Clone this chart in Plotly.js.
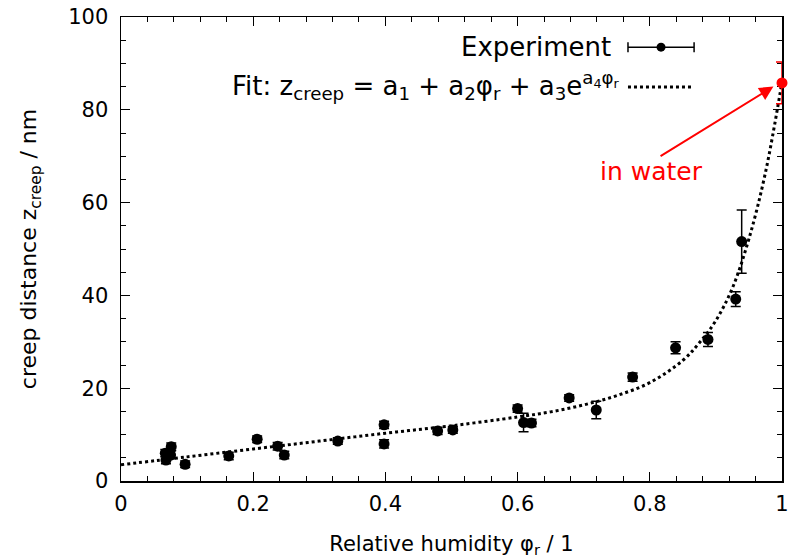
<!DOCTYPE html>
<html>
<head>
<meta charset="utf-8">
<script src="https://cdn.plot.ly/plotly-3.0.1.min.js"></script>
<style>
  html, body { margin: 0; padding: 0; background: #fff; }
  #chart { width: 789px; height: 558px; }
</style>
</head>
<body>
<div id="chart"></div>
<script>
// Measured creep distance versus relative humidity
const humidity = [0.067, 0.068, 0.075, 0.076, 0.097, 0.163, 0.206, 0.237, 0.247, 0.328,
                  0.398, 0.398, 0.479, 0.502, 0.600, 0.609, 0.621, 0.678, 0.719, 0.774,
                  0.839, 0.888, 0.930, 0.939];
const creep    = [6.0, 4.5, 5.6, 7.4, 3.6, 5.4, 9.0, 7.5, 5.6, 8.6,
                  12.1, 8.0, 10.8, 11.0, 15.6, 12.6, 12.5, 17.9, 15.3, 22.4,
                  28.7, 30.5, 39.2, 51.6];
const creepErr = [0.8, 0.8, 0.8, 0.8, 0.7, 0.8, 0.7, 0.8, 0.8, 0.7,
                  0.8, 0.9, 0.8, 0.7, 0.8, 2.0, 0.8, 0.7, 1.9, 0.9,
                  1.3, 1.5, 1.6, 6.8];

// Measurement in water (phi_r = 1)
const waterX = [1.0];
const waterY = [85.8];
const waterErr = [4.5];

// Fitted curve z = a1 + a2*phi + a3*exp(a4*phi), sampled along its course
const fitX = [0, 0.1, 0.2, 0.3, 0.4, 0.5, 0.6, 0.65, 0.7, 0.75, 0.8, 0.85, 0.875,
              0.9, 0.925, 0.95, 0.975, 1.0];
const fitY = [3.5, 5.2, 6.9, 8.6, 10.3, 11.9, 13.8, 14.9, 16.4, 18.4, 21.2, 26.0, 29.8,
              34.6, 41.6, 52.2, 66.5, 86.0];

// Axis ticks
const xTicks = [0, 0.2, 0.4, 0.6, 0.8, 1];
const xTickText = ['0', '0.2', '0.4', '0.6', '0.8', '1'];
const yTicks = [0, 20, 40, 60, 80, 100];
const yTickText = ['0', '20', '40', '60', '80', '100'];

// Annotation arrow: from label to water point
const arrowFrom = [0.814, 69.8];
const arrowTo = [0.987, 85.0];

const FONT = 'DejaVu Sans, Liberation Sans, sans-serif';

const traces = [
  {
    x: fitX, y: fitY, type: 'scatter', mode: 'lines',
    line: { color: 'black', width: 3, dash: '3px,3px', shape: 'spline', smoothing: 1 },
    hoverinfo: 'skip', showlegend: false
  },
  {
    x: humidity, y: creep, type: 'scatter', mode: 'markers',
    marker: { color: 'black', size: 11 },
    error_y: { type: 'data', array: creepErr, visible: true, color: 'black', thickness: 1.5, width: 5 },
    showlegend: false
  },
  {
    x: waterX, y: waterY, type: 'scatter', mode: 'markers',
    marker: { color: 'red', size: 11 },
    error_y: { type: 'data', array: waterErr, visible: true, color: 'red', thickness: 1.5, width: 6 },
    cliponaxis: false, showlegend: false
  }
];

const axisCommon = {
  showline: true, linecolor: 'black', linewidth: 1.5, mirror: 'allticks',
  ticks: 'inside', ticklen: 9, tickwidth: 1, tickcolor: 'black',
  showgrid: false, zeroline: false, layer: 'below traces',
  tickfont: { family: FONT, size: 21, color: 'black' }
};

// Key placement (paper coordinates)
const keyX0 = 0.767, keyX1 = 0.867, keyDot = 0.817;
const keyY1 = 0.935, keyY2 = 0.849;

const layout = {
  width: 789, height: 558,
  margin: { l: 121, r: 7, t: 17, b: 77 },
  paper_bgcolor: 'white', plot_bgcolor: 'white',
  showlegend: false,
  xaxis: Object.assign({}, axisCommon, {
    range: [0, 1], tickvals: xTicks, ticktext: xTickText, ticklabelstandoff: 3,
    minor: { dtick: 0.04, ticks: 'inside', ticklen: 5, tickwidth: 1, tickcolor: 'black' },
    title: { text: 'Relative humidity φ<sub>r</sub> / 1', font: { family: FONT, size: 21, color: 'black' }, standoff: 23 }
  }),
  yaxis: Object.assign({}, axisCommon, {
    range: [0, 100], tickvals: yTicks, ticktext: yTickText, ticklabelstandoff: 7,
    minor: { dtick: 5, ticks: 'inside', ticklen: 5, tickwidth: 1, tickcolor: 'black' },
    title: { text: 'creep distance z<sub>creep</sub> / nm', font: { family: FONT, size: 22, color: 'black' }, standoff: 25 }
  }),
  shapes: [
    // Experiment key sample: horizontal bar with caps and dot
    { type: 'line', xref: 'paper', yref: 'paper', x0: keyX0, x1: keyX1, y0: keyY1, y1: keyY1,
      line: { color: 'black', width: 1.5 } },
    { type: 'line', xref: 'paper', yref: 'paper', ysizemode: 'pixel', yanchor: keyY1,
      x0: keyX0, x1: keyX0, y0: -5, y1: 5, line: { color: 'black', width: 1.5 } },
    { type: 'line', xref: 'paper', yref: 'paper', ysizemode: 'pixel', yanchor: keyY1,
      x0: keyX1, x1: keyX1, y0: -5, y1: 5, line: { color: 'black', width: 1.5 } },
    { type: 'circle', xref: 'paper', yref: 'paper', xsizemode: 'pixel', ysizemode: 'pixel',
      xanchor: keyDot, yanchor: keyY1, x0: -4.5, x1: 4.5, y0: -4.5, y1: 4.5,
      fillcolor: 'black', line: { color: 'black', width: 0 } },
    // Fit key sample: dotted line
    { type: 'line', xref: 'paper', yref: 'paper', x0: keyX0, x1: 0.864, y0: keyY2, y1: keyY2,
      line: { color: 'black', width: 3, dash: '3px,3px' } }
  ],
  annotations: [
    { xref: 'paper', yref: 'paper', x: 0.745, y: keyY1, xanchor: 'right', yanchor: 'middle',
      text: 'Experiment', showarrow: false, font: { family: FONT, size: 26, color: 'black' } },
    { xref: 'paper', yref: 'paper', x: 0.758, y: keyY2 + 0.004, xanchor: 'right', yanchor: 'middle',
      text: 'Fit: z<sub>creep</sub> = a<sub>1</sub> + a<sub>2</sub>φ<sub>r</sub> + a<sub>3</sub>e<sup>a<sub>4</sub>φ<sub>r</sub></sup>',
      showarrow: false, font: { family: FONT, size: 26, color: 'black' } },
    { xref: 'x', yref: 'y', x: arrowTo[0], y: arrowTo[1], axref: 'x', ayref: 'y',
      ax: arrowFrom[0], ay: arrowFrom[1], text: '', showarrow: true,
      arrowcolor: 'red', arrowwidth: 2, arrowhead: 2, arrowsize: 1.4, standoff: 0, startstandoff: 0 },
    { xref: 'x', yref: 'y', x: 0.803, y: 66.8, xanchor: 'center', yanchor: 'middle',
      text: 'in water', showarrow: false, font: { family: FONT, size: 25, color: 'red' } }
  ]
};

Plotly.newPlot('chart', traces, layout, { displayModeBar: false, staticPlot: true });
</script>
</body>
</html>
